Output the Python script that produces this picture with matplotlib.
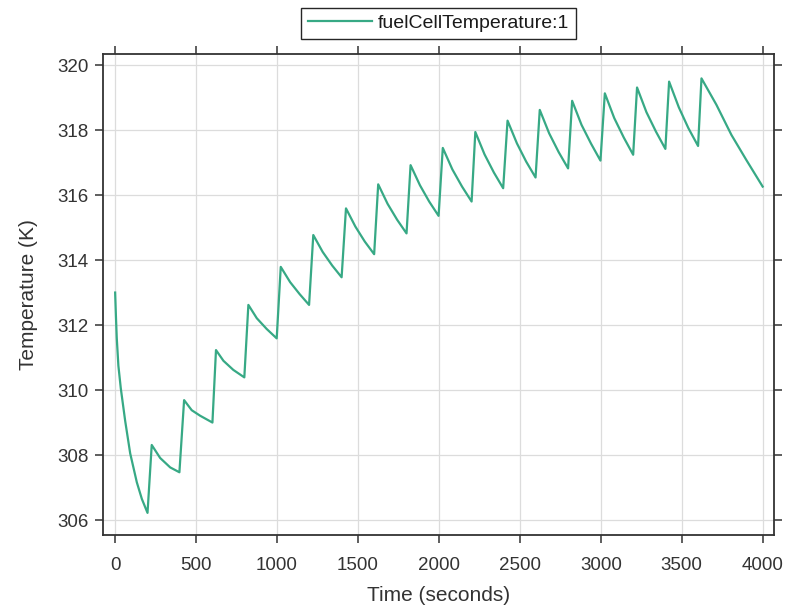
import matplotlib
matplotlib.use("Agg")
import matplotlib.pyplot as plt

# Data (time in seconds, temperature in K)
time_s = [0, 5, 10, 20, 35, 62, 93, 134, 165, 200,
          226, 278, 340, 397,
          426, 473, 525, 601,
          623, 669, 730, 798,
          823, 875, 936, 998,
          1023, 1081, 1140, 1198,
          1224, 1282, 1341, 1399,
          1426, 1484, 1542, 1600,
          1625, 1683, 1742, 1800,
          1825, 1883, 1940, 1998,
          2024, 2083, 2143, 2202,
          2225, 2282, 2340, 2397,
          2424, 2482, 2539, 2597,
          2623, 2681, 2740, 2798,
          2823, 2881, 2940, 2998,
          3025, 3083, 3142, 3200,
          3224, 3282, 3341, 3399,
          3422, 3482, 3541, 3601,
          3622, 3714, 3807, 3899, 4000]
temperature_K = [313.00, 312.25, 311.60, 310.75, 310.05, 309.05, 308.05, 307.16, 306.65, 306.22,
                 308.31, 307.91, 307.62, 307.47,
                 309.69, 309.38, 309.21, 309.00,
                 311.23, 310.90, 310.62, 310.39,
                 312.62, 312.21, 311.88, 311.59,
                 313.79, 313.32, 312.95, 312.62,
                 314.77, 314.25, 313.83, 313.47,
                 315.59, 315.03, 314.57, 314.18,
                 316.33, 315.73, 315.24, 314.82,
                 316.92, 316.30, 315.80, 315.36,
                 317.45, 316.79, 316.26, 315.80,
                 317.94, 317.25, 316.69, 316.21,
                 318.29, 317.59, 317.03, 316.54,
                 318.62, 317.90, 317.32, 316.82,
                 318.90, 318.16, 317.58, 317.06,
                 319.13, 318.37, 317.77, 317.24,
                 319.31, 318.55, 317.95, 317.42,
                 319.49, 318.70, 318.06, 317.51,
                 319.59, 318.78, 317.85, 317.08, 316.26]
series_label = "fuelCellTemperature:1"
x_ticks = [0, 500, 1000, 1500, 2000, 2500, 3000, 3500, 4000]
y_ticks = [306, 308, 310, 312, 314, 316, 318, 320]

line_color = "#37a985"
text_color = "#333333"
spine_color = "#333333"

plt.rcParams['font.family'] = ['Liberation Sans', 'DejaVu Sans']

fig = plt.figure(figsize=(7.87, 6.09), dpi=100)
ax = fig.add_axes([103/787, 1 - 535/609, (774 - 103)/787, (535 - 54)/609])

ax.plot(time_s, temperature_K, color=line_color, linewidth=1.6,
        solid_joinstyle='round', label=series_label)

ax.set_xlim(-75, 4070)
ax.set_ylim(305.54, 320.34)
ax.set_xticks(x_ticks)
ax.set_yticks(y_ticks)

ax.grid(True, color="#dcdcdc", linewidth=0.9)
ax.set_axisbelow(True)

for s in ax.spines.values():
    s.set_color(spine_color)
    s.set_linewidth(1.3)

ax.tick_params(axis='both', which='both', direction='out', length=5.5, width=1.1,
               color=spine_color, labelcolor=text_color, labelsize=13.5,
               top=True, right=True, labeltop=False, labelright=False)
ax.tick_params(axis='x', pad=10)
ax.tick_params(axis='y', pad=5)

ax.set_xlabel("Time (seconds)", fontsize=15, color=text_color, labelpad=9)
ax.set_ylabel("Temperature (K)", fontsize=15, color=text_color, labelpad=14)

leg = ax.legend(loc='lower center', bbox_to_anchor=(0.5, 1 + 15/481),
                borderaxespad=0, fontsize=14, frameon=True, fancybox=False,
                framealpha=1, edgecolor="#262626", handlelength=3.3,
                handletextpad=0.25, borderpad=0.35)
leg.get_frame().set_linewidth(1.0)
for t in leg.get_texts():
    t.set_color("#1a1a1a")

fig.savefig("out.png", dpi=100)
